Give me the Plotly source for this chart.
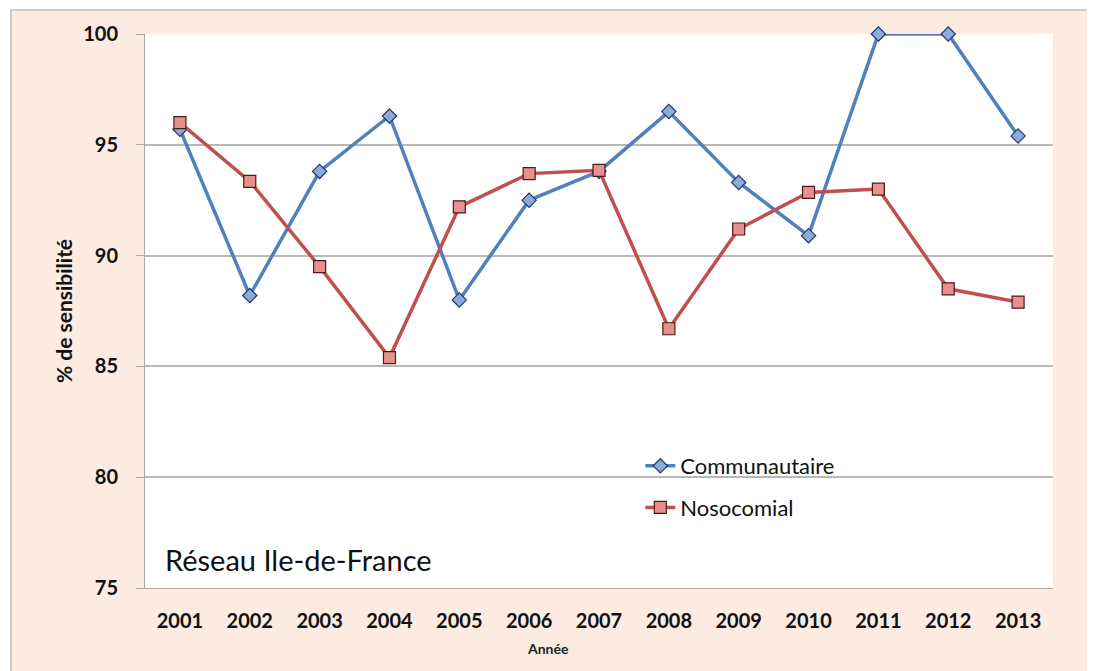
import plotly.graph_objects as go

years = ["2001", "2002", "2003", "2004", "2005", "2006", "2007",
         "2008", "2009", "2010", "2011", "2012", "2013"]
communautaire = [95.7, 88.2, 93.8, 96.3, 88.0, 92.5, 93.8,
                 96.5, 93.3, 90.9, 100.0, 100.0, 95.4]
nosocomial = [96.0, 93.35, 89.5, 85.4, 92.2, 93.7, 93.85,
              86.7, 91.2, 92.85, 93.0, 88.5, 87.9]
y_ticks = [75, 80, 85, 90, 95, 100]

FONT = "Lato"
PEACH = "#FBEBE1"

fig = go.Figure()
fig.add_trace(go.Scatter(
    x=years, y=communautaire, name="Communautaire", mode="lines+markers",
    legendgroup="c", cliponaxis=False,
    line=dict(color="#4F81BD", width=3.5),
    marker=dict(symbol="diamond", size=11, color="#8EAADB",
                line=dict(color="#1F3864", width=1.2)),
))
fig.add_trace(go.Scatter(
    x=years, y=nosocomial, name="Nosocomial", mode="lines+markers",
    legendgroup="n", cliponaxis=False,
    line=dict(color="#C0504D", width=3.5),
    marker=dict(symbol="square", size=12, color="#E8908D",
                line=dict(color="#4A1A1A", width=1.2)),
))

fig.update_layout(
    width=1087, height=663,
    margin=dict(l=137, r=42, t=26, b=83),
    paper_bgcolor="white",
    plot_bgcolor="white",
    font=dict(family=FONT, color="#111111"),
    showlegend=True,
    legend=dict(x=0.5455, y=0.258, xanchor="left", yanchor="top",
                bgcolor="rgba(0,0,0,0)", font=dict(size=22, family=FONT),
                tracegroupgap=10, itemwidth=30),
    shapes=[
        dict(type="rect", xref="paper", yref="paper",
             x0=-0.1476, x1=1.1, y0=-0.3, y1=1.0433,
             fillcolor=PEACH, line=dict(color="#BDBDBD", width=1.5),
             layer="below"),
        dict(type="rect", xref="paper", yref="paper",
             x0=0, x1=1, y0=0, y1=1,
             fillcolor="white", line=dict(width=0), layer="below"),
    ],
    annotations=[
        dict(text="Réseau Ile-de-France", xref="paper", yref="paper",
             x=0.02, y=0.052, xanchor="left", yanchor="middle",
             showarrow=False, font=dict(size=29, family=FONT, color="#111111")),
        dict(text="<b>Année</b>", xref="paper", yref="paper",
             x=(548 - 145) / 908, y=-(648 - 588) / 554, xanchor="center",
             yanchor="middle", showarrow=False,
             font=dict(size=14, family=FONT, color="#222222")),
    ],
)

fig.update_xaxes(
    type="category", range=[-0.5, 12.5], showgrid=False, showline=True,
    linecolor="#A8A8A8", linewidth=1, ticks="",
    tickfont=dict(size=20, family=FONT, color="#111111", weight="bold"),
    ticklabelstandoff=15,
)
fig.update_yaxes(
    range=[75, 100], tickvals=y_ticks, showgrid=True, gridcolor="#B8B8B8",
    gridwidth=1.5, showline=True, linecolor="#A8A8A8", linewidth=1,
    ticks="outside", ticklen=8, tickcolor="#A8A8A8",
    tickfont=dict(size=20, family=FONT, color="#111111", weight="bold"),
    ticklabelstandoff=14, zeroline=False,
    title=dict(text="<b>% de sensibilité</b>", font=dict(size=21, family=FONT),
               standoff=4),
)

fig.write_html("out.html")
